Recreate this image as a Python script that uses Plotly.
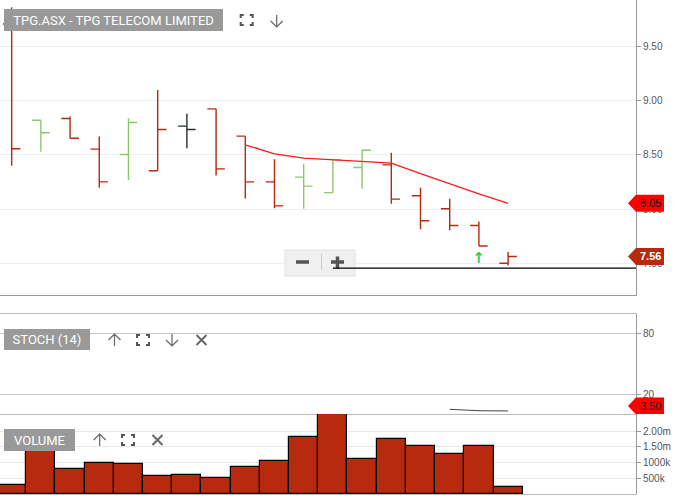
import plotly.graph_objects as go

W, H = 681, 499

# ---------------- data ----------------
idx = list(range(18))
opens = [9.71, 8.82, 8.837, 8.554, 8.505, 8.354, 8.766, 8.926, 8.674, 8.252,
         8.295, 8.152, 8.384, 8.409, 8.123, 8.003, 7.849, 7.50]
highs = [9.865, 8.82, 8.855, 8.671, 8.84, 9.10, 8.88, 8.926, 8.674, 8.46,
         8.418, 8.455, 8.548, 8.52, 8.197, 8.095, 7.886, 7.603]
lows = [8.40, 8.53, 8.655, 8.197, 8.268, 8.354, 8.563, 8.31, 8.098, 8.009,
        8.003, 8.152, 8.187, 8.049, 7.815, 7.806, 7.66, 7.48]
closes = [8.557, 8.705, 8.655, 8.252, 8.80, 8.735, 8.735, 8.372, 8.252, 8.03,
          8.212, 8.455, 8.544, 8.092, 7.892, 7.849, 7.66, 7.563]

ma_idx = list(range(8, 18))
ma_vals = [8.594, 8.511, 8.47, 8.455, 8.442, 8.424, 8.327, 8.233, 8.141, 8.054]

stoch_idx = [15, 16, 17]
stoch_k = [5.15, 3.76, 3.5]

volumes = [276000, 1600000, 784000, 975000, 943000, 562000, 594000, 498000, 848000,
           1038000, 1800000, 2530000, 1100000, 1740000, 1510000, 1260000, 1510000, 213000]

support_level = 7.456
support_start = 11
signal_idx = [16]
signal_price = [7.535]

price_ticks = [7.5, 8.0, 8.5, 9.0, 9.5]
stoch_ticks = [20, 80]
vol_ticks = [500000, 1000000, 1500000, 2000000]
vol_ticklabels = ["500k", "1000k", "1.50m", "2.00m"]

title_text = "TPG.ASX - TPG TELECOM LIMITED"
stoch_text = "STOCH (14)"
volume_text = "VOLUME"

# ---------------- styling ----------------
RED = "#b82a0e"
GREEN = "#8cc76e"
DARK = "#26302f"
ICON = "#666666"
X_RANGE = [-0.40, 21.38]


def px(x):
    return x / W


def py(y):
    return 1 - y / H


groups = {"down": [], "up": [], "flat": []}
for i in idx:
    ref = closes[i - 1] if i > 0 else opens[i]
    if closes[i] > ref:
        groups["up"].append(i)
    elif closes[i] < ref:
        groups["down"].append(i)
    else:
        groups["flat"].append(i)

fig = go.Figure()

for key, color in [("down", RED), ("up", GREEN), ("flat", DARK)]:
    sel = groups[key]
    fig.add_trace(go.Ohlc(
        x=sel,
        open=[opens[i] for i in sel],
        high=[highs[i] for i in sel],
        low=[lows[i] for i in sel],
        close=[closes[i] for i in sel],
        increasing=dict(line=dict(color=color, width=1.4)),
        decreasing=dict(line=dict(color=color, width=1.4)),
        tickwidth=0.3,
        hoverinfo="skip",
        showlegend=False,
        xaxis="x", yaxis="y",
    ))

fig.add_trace(go.Scatter(x=ma_idx, y=ma_vals, mode="lines",
                         line=dict(color="#ff1a1a", width=1.3),
                         hoverinfo="skip", showlegend=False, xaxis="x", yaxis="y"))

fig.add_trace(go.Scatter(x=signal_idx, y=signal_price, mode="text", text=["↑"],
                         textfont=dict(color="#2ecc40", size=15, family="DejaVu Sans", weight="bold"),
                         hoverinfo="skip", showlegend=False, xaxis="x", yaxis="y"))

fig.add_trace(go.Scatter(x=stoch_idx, y=stoch_k, mode="lines",
                         line=dict(color="#444444", width=1),
                         hoverinfo="skip", showlegend=False, xaxis="x2", yaxis="y2"))

fig.add_trace(go.Bar(x=idx, y=volumes, width=1,
                     marker=dict(color=RED, line=dict(color="black", width=1.2)),
                     hoverinfo="skip", showlegend=False, xaxis="x3", yaxis="y3"))

tickfont = dict(family="Liberation Sans", size=10, color="#555555")
xcommon = dict(domain=[0, px(636)], range=X_RANGE, showgrid=False, zeroline=False,
               showticklabels=False, ticks="", fixedrange=True)

fig.update_layout(
    width=W, height=H,
    margin=dict(l=0, r=0, t=0, b=0),
    paper_bgcolor="white", plot_bgcolor="white",
    showlegend=False, hovermode=False, bargap=0,
    xaxis=dict(**xcommon, anchor="y", showline=True, linecolor="#999999", linewidth=1,
               rangeslider=dict(visible=False)),
    xaxis2=dict(**xcommon, anchor="y2", showline=True, mirror=True, linecolor="#bbbbbb", linewidth=1),
    xaxis3=dict(**xcommon, anchor="y3", showline=True, linecolor="#bbbbbb", linewidth=1),
    yaxis=dict(domain=[py(295), 1], range=[7.207, 9.931], side="right", anchor="x",
               tickvals=price_ticks, tickformat=".2f", showline=True, linecolor="#999999",
               ticks="outside", ticklen=4, tickcolor="#999999", gridcolor="#eeeeee",
               zeroline=False, tickfont=tickfont, fixedrange=True),
    yaxis2=dict(domain=[py(414), py(314)], range=[0.5, 99.5], side="right", anchor="x2",
                tickvals=stoch_ticks, showline=True, linecolor="#999999",
                ticks="outside", ticklen=4, tickcolor="#999999", gridcolor="#c8c8c8",
                zeroline=False, tickfont=tickfont, fixedrange=True),
    yaxis3=dict(domain=[py(494), py(414)], range=[0, 2540000], side="right", anchor="x3",
                tickvals=vol_ticks, ticktext=vol_ticklabels, showline=True, linecolor="#999999",
                ticks="outside", ticklen=4, tickcolor="#999999", gridcolor="#e8e8e8",
                zeroline=False, tickfont=tickfont, fixedrange=True),
)

shapes = []

# zoom control
shapes.append(dict(type="rect", xref="paper", yref="paper", x0=px(285), x1=px(355),
                   y0=py(276), y1=py(250), fillcolor="#f0f0f0",
                   line=dict(color="#e2e2e2", width=1), layer="above"))
shapes.append(dict(type="line", xref="paper", yref="paper", x0=px(321.5), x1=px(321.5),
                   y0=py(270), y1=py(254), line=dict(color="#cccccc", width=1), layer="above"))
shapes.append(dict(type="line", xref="paper", yref="paper", x0=px(296), x1=px(309),
                   y0=py(262), y1=py(262), line=dict(color="#555555", width=3.5), layer="above"))
shapes.append(dict(type="line", xref="paper", yref="paper", x0=px(331), x1=px(344),
                   y0=py(262), y1=py(262), line=dict(color="#555555", width=3.5), layer="above"))
shapes.append(dict(type="line", xref="paper", yref="paper", x0=px(337.5), x1=px(337.5),
                   y0=py(268.5), y1=py(256.5), line=dict(color="#555555", width=3.5), layer="above"))

# support line
shapes.append(dict(type="line", xref="x", yref="y", x0=support_start, x1=X_RANGE[1],
                   y0=support_level, y1=support_level, line=dict(color="black", width=1.3),
                   layer="above"))


def tag_shape(yref, yval, fill, dy=0.0):
    path = (f"M-8,{dy} L0,{dy + 8.5} L28,{dy + 8.5} L28,{dy - 8.5} L0,{dy - 8.5} Z")
    return dict(type="path", xref="paper", yref=yref, xsizemode="pixel", ysizemode="pixel",
                xanchor=px(636), yanchor=yval, path=path, fillcolor=fill,
                line=dict(width=0), layer="above")


shapes.append(tag_shape("y", ma_vals[-1], "#ff0000"))
shapes.append(tag_shape("y", closes[-1], RED))
shapes.append(tag_shape("y2", stoch_k[-1], "#ff0000", dy=5.0))


def icon_shape(path, cx, cy, width, color="#555555"):
    return dict(type="path", xref="paper", yref="paper", xsizemode="pixel", ysizemode="pixel",
                xanchor=px(cx), yanchor=py(cy), path=path,
                line=dict(color=color, width=width), layer="above")


a, b, c = 6, 5, 3
EXPAND = (f"M{-a},{b - c} L{-a},{b} L{-a + c},{b} "
          f"M{a - c},{b} L{a},{b} L{a},{b - c} "
          f"M{a},{-b + c} L{a},{-b} L{a - c},{-b} "
          f"M{-a + c},{-b} L{-a},{-b} L{-a},{-b + c}")
UP = "M0,-6 L0,6 M-6,0 L0,6 L6,0"
DOWN = "M0,6 L0,-6 M-6,0 L0,-6 L6,0"
CLOSE = "M-5,-5 L5,5 M-5,5 L5,-5"

for cx, cy in [(246.7, 20), (143, 340), (128, 440)]:
    shapes.append(icon_shape(EXPAND, cx, cy, 2))
for cx, cy in [(114.5, 340), (99.7, 440)]:
    shapes.append(icon_shape(UP, cx, cy, 1.2, ICON))
for cx, cy in [(276.7, 21), (172, 340)]:
    shapes.append(icon_shape(DOWN, cx, cy, 1.2, ICON))
for cx, cy in [(201.5, 340), (157.5, 440)]:
    shapes.append(icon_shape(CLOSE, cx, cy, 2, ICON))

fig.update_layout(shapes=shapes)

annotations = []


def panel_label(text, x0, x1, y0, y1):
    pad = 2
    return dict(xref="paper", yref="paper", x=px(x0), y=py((y0 + y1) / 2),
                xanchor="left", yanchor="middle", text=text, showarrow=False,
                bgcolor="#999999", borderwidth=0, borderpad=pad,
                width=x1 - x0 - 2 * pad, height=y1 - y0 - 2 * pad, align="center",
                font=dict(color="white", size=13, family="Roboto"))


annotations.append(panel_label(title_text, 4, 223, 9, 31))
annotations.append(panel_label(stoch_text, 4, 90, 329, 350))
annotations.append(panel_label(volume_text, 4, 75, 429, 451))


def tag_text(yref, yval, color, bold=False, yshift=0):
    return dict(xref="paper", yref=yref, x=px(650), y=yval, text=f"{yval:.2f}",
                showarrow=False, xanchor="center", yanchor="middle", yshift=yshift,
                font=dict(color=color, size=11, family="Liberation Sans",
                          weight="bold" if bold else "normal"))


annotations.append(tag_text("y", ma_vals[-1], "#111111"))
annotations.append(tag_text("y", closes[-1], "white", bold=True))
annotations.append(tag_text("y2", stoch_k[-1], "#222222", yshift=5))

fig.update_layout(annotations=annotations)

fig.write_html("out.html", config={"displayModeBar": False},
               post_script="document.body.style.margin='0';document.body.style.overflow='hidden';")
